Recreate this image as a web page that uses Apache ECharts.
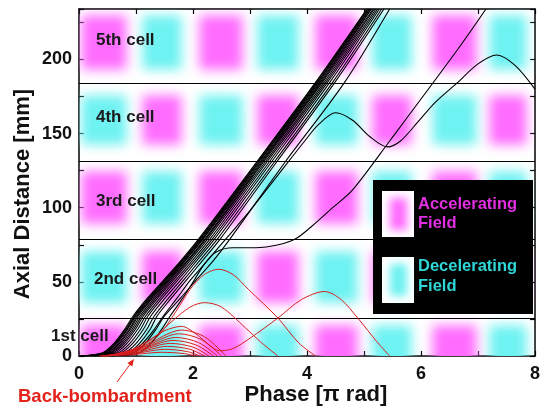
<!DOCTYPE html>
<html><head><meta charset="utf-8">
<script src="https://cdn.jsdelivr.net/npm/echarts@6/dist/echarts.min.js"></script>
<style>html,body{margin:0;padding:0;background:#fff}#c{width:543px;height:412px}</style>
</head><body><div id="c"></div>
<script>
// ---------------- data ----------------
const cellEdges = [0, 25.6, 79, 131, 184, 234];
const cellNames = ['1st cell', '2nd cell', '3rd cell', '4th cell', '5th cell'];
// field blocks (phase extent per half period, axial extent per cell)
const blockStart = [0.03, 1.10, 2.11, 3.13, 4.14, 5.14, 6.20, 7.19];
const blockEnd   = [0.85, 1.80, 2.88, 3.86, 4.90, 5.84, 6.99, 7.86];
const blockBottom = [-10, 36, 89, 142, 193];
const blockTop    = [21, 71, 125, 176, 230];

// black (transmitted) bunch: shared axial levels, phase per trajectory
const bundleY = [0, 2, 8, 18, 27, 39, 51, 64, 79, 131, 184, 234];
const bundle01 = [0.00, 0.40, 0.60, 0.80, 0.95, 1.20, 1.48, 1.78, 2.10, 3.12, 4.14, 5.05];
const bundle02 = [0.02, 0.42, 0.62, 0.82, 0.97, 1.22, 1.50, 1.80, 2.12, 3.13, 4.15, 5.06];
const bundle03 = [0.04, 0.44, 0.64, 0.84, 0.98, 1.23, 1.51, 1.81, 2.13, 3.15, 4.17, 5.07];
const bundle04 = [0.06, 0.45, 0.65, 0.85, 1.00, 1.25, 1.53, 1.83, 2.15, 3.16, 4.18, 5.09];
const bundle05 = [0.09, 0.48, 0.68, 0.88, 1.02, 1.27, 1.55, 1.85, 2.17, 3.18, 4.20, 5.10];
const bundle06 = [0.11, 0.50, 0.70, 0.90, 1.04, 1.29, 1.57, 1.86, 2.18, 3.20, 4.22, 5.12];
const bundle07 = [0.14, 0.53, 0.73, 0.93, 1.07, 1.32, 1.59, 1.89, 2.21, 3.22, 4.24, 5.13];
const bundle08 = [0.18, 0.56, 0.76, 0.96, 1.10, 1.35, 1.62, 1.91, 2.23, 3.24, 4.26, 5.16];
const bundle09 = [0.22, 0.59, 0.79, 0.99, 1.13, 1.38, 1.65, 1.94, 2.26, 3.27, 4.29, 5.18];
const bundle10 = [0.26, 0.63, 0.83, 1.03, 1.17, 1.42, 1.69, 1.98, 2.30, 3.30, 4.32, 5.21];
const bundle11 = [0.31, 0.68, 0.88, 1.08, 1.21, 1.46, 1.73, 2.02, 2.34, 3.34, 4.35, 5.24];
const bundle12 = [0.37, 0.73, 0.93, 1.13, 1.26, 1.51, 1.78, 2.06, 2.38, 3.38, 4.39, 5.27];
const bundle13 = [0.44, 0.79, 0.99, 1.19, 1.32, 1.57, 1.83, 2.11, 2.43, 3.43, 4.44, 5.31];
const bundle14 = [0.50, 0.85, 1.05, 1.25, 1.37, 1.62, 1.88, 2.16, 2.48, 3.47, 4.48, 5.35];
const bundle15 = [0.60, 0.95, 1.15, 1.35, 1.50, 1.78, 2.05, 2.35, 2.65, 3.62, 4.65, 5.45];

// black trajectories that fall behind
const lagPlateau = [[0.7,0],[1.05,2],[1.25,8],[1.45,18],[1.6,27],[1.82,39],[2.02,51],[2.2,62],[2.4,70],[2.7,73],[3.1,73],[3.5,75],[3.8,79],[4.07,87],[4.45,100],[4.8,112],[5.46,145.5],[6.63,206],[7.14,234]];
const lagWave = [[0.55,0],[0.9,2],[1.1,8],[1.32,18],[1.48,27],[1.72,39],[1.95,51],[2.2,62],[2.6,80],[3.0,98],[3.49,122],[3.96,145],[4.2,156],[4.5,164],[4.8,159],[5.1,148],[5.41,141],[5.64,145],[5.95,158],[6.25,171],[6.63,184],[7.0,197],[7.33,203],[7.65,196],[8.0,180]];

// red (back-bombarding) trajectories
const backA = [[0.5,0],[1.0,4],[1.4,14],[1.7,30],[1.95,45],[2.2,55],[2.45,58.5],[2.7,55],[2.97,45],[3.49,25.6],[3.85,9],[4.15,0]];
const backB = [[0.45,0],[0.9,3],[1.3,12],[1.65,24],[1.95,33],[2.2,36],[2.5,33],[2.92,19],[3.2,9],[3.49,0]];
const backC = [[0.4,0],[0.85,3],[1.2,10],[1.5,17],[1.8,20],[2.05,15],[2.3,7],[2.47,3.5],[2.7,5],[3.0,12],[3.49,25.6],[3.9,38],[4.31,43.5],[4.6,38],[4.89,25.6],[5.24,9],[5.45,0]];
const backS1 = [[0.35,0],[0.9,0.8],[1.45,2.5],[1.85,1.6],[2.05,0]];
const backS2 = [[0.38,0],[0.95,1.5],[1.5,4.5],[1.9,3],[2.12,0]];
const backS3 = [[0.4,0],[1.0,2.2],[1.55,6.5],[1.95,4.5],[2.2,0]];
const backS4 = [[0.42,0],[1.02,3],[1.6,8.5],[2.0,6],[2.28,0]];
const backS5 = [[0.45,0],[1.05,3.8],[1.65,10.5],[2.05,7.5],[2.36,0]];
const backS6 = [[0.48,0],[1.08,4.6],[1.7,12.5],[2.1,9],[2.43,0]];
const backS7 = [[0.5,0],[1.1,5.5],[1.75,15],[2.15,11],[2.5,0]];
const backS8 = [[0.52,0],[1.12,6.5],[1.8,17.5],[2.2,13],[2.58,0]];

const xTicks = [0, 2, 4, 6, 8];
const yTicks = [0, 50, 100, 150, 200];

// ---------------- chart ----------------
const MAG = '#ff6cff', CYA = '#6ef2f2';
const FONT = 'Liberation Sans, Arial, Helvetica, sans-serif';
const OFF = 5000;

const blocks = [];
for (let c = 0; c < 5; c++) for (let k = 0; k < blockStart.length; k++)
  blocks.push([blockStart[k], blockEnd[k], blockBottom[c], blockTop[c], (c + k) % 2]);

const bundles = [bundle01,bundle02,bundle03,bundle04,bundle05,bundle06,bundle07,bundle08,bundle09,bundle10,bundle11,bundle12,bundle13,bundle14,bundle15];
const blackCurves = bundles.map(xs => xs.map((x, i) => [x, bundleY[i]])).concat([lagPlateau, lagWave]);
const redCurves = [backS1,backS2,backS3,backS4,backS5,backS6,backS7,backS8,backC,backB,backA];

const chart = echarts.init(document.getElementById('c'), null, {renderer: 'canvas'});

const axisCommon = {
  type: 'value', splitLine: {show: false},
  axisLine: {show: true, onZero: false, lineStyle: {color: '#000', width: 1.5}},
  axisTick: {show: true, inside: true, length: 5, lineStyle: {color: '#000', width: 1.2}}
};

const series = [{
  type: 'custom', clip: true, z: 1, silent: true,
  data: blocks,
  renderItem: (params, api) => {
    const p0 = api.coord([api.value(0), api.value(3)]);
    const p1 = api.coord([api.value(1), api.value(2)]);
    const col = api.value(4) === 0 ? MAG : CYA;
    return {type: 'rect', shape: {x: p0[0] - OFF, y: p0[1], width: p1[0] - p0[0], height: p1[1] - p0[1]},
      style: {fill: col, shadowBlur: 11, shadowColor: col, shadowOffsetX: OFF}};
  }
}, {
  type: 'line', data: [], z: 3, silent: true,
  markLine: {silent: true, symbol: 'none', label: {show: false},
    lineStyle: {color: '#000', width: 1.2, type: 'solid'},
    data: cellEdges.slice(1, 5).map(v => ({yAxis: v}))}
}];
blackCurves.forEach(d => series.push({type: 'line', data: d, smooth: 0.3, showSymbol: false, z: 4, silent: true,
  lineStyle: {color: '#000', width: 1.1}}));
redCurves.forEach(d => series.push({type: 'line', data: d, smooth: 0.3, showSymbol: false, z: 5, silent: true,
  lineStyle: {color: '#d81e1e', width: 1}}));

function blurRect(x, y, w, h, col) {
  return {type: 'rect', shape: {x: x - OFF, y, width: w, height: h},
    style: {fill: col, shadowBlur: 9, shadowColor: col, shadowOffsetX: OFF}, z: 101};
}

const cellLabelPos = [[51, 336], [94, 279], [96, 201], [96, 117], [96, 40]];
const graphics = cellNames.map((t, i) => ({type: 'text', x: cellLabelPos[i][0], y: cellLabelPos[i][1], z: 50,
  style: {text: t, font: 'bold 17px ' + FONT, fill: '#1a1a1a', verticalAlign: 'middle', align: 'left'}}));

graphics.push(
  {type: 'text', x: 23, y: 194, rotation: Math.PI / 2, z: 50,
    style: {text: 'Axial Distance [mm]', font: 'bold 22px ' + FONT, fill: '#111', align: 'center', verticalAlign: 'middle'}},
  {type: 'text', x: 316, y: 395, z: 50,
    style: {text: 'Phase [π rad]', font: 'bold 22px ' + FONT, fill: '#111', align: 'center', verticalAlign: 'middle'}},
  {type: 'text', x: 18, y: 397, z: 50,
    style: {text: 'Back-bombardment', font: 'bold 18.5px ' + FONT, fill: '#e4221c', align: 'left', verticalAlign: 'middle'}},
  {type: 'line', z: 50, shape: {x1: 117, y1: 382, x2: 131, y2: 363}, style: {stroke: '#e4221c', lineWidth: 1}},
  {type: 'polygon', z: 50, shape: {points: [[134, 359], [132.3, 366.4], [127.4, 362.9]]}, style: {fill: '#e4221c'}},
  // legend box
  {type: 'rect', z: 100, shape: {x: 373, y: 180, width: 160, height: 134}, style: {fill: '#000'}},
  {type: 'rect', z: 100, shape: {x: 382, y: 191, width: 32, height: 46}, style: {fill: '#fff'}},
  blurRect(390, 198, 17, 32, MAG),
  {type: 'rect', z: 100, shape: {x: 382, y: 257, width: 32, height: 46}, style: {fill: '#fff'}},
  blurRect(390, 264, 17, 32, CYA),
  {type: 'text', x: 418, y: 204, z: 102, style: {text: 'Accelerating', font: 'bold 16.5px ' + FONT, fill: '#e22ee2', verticalAlign: 'middle'}},
  {type: 'text', x: 418, y: 223, z: 102, style: {text: 'Field', font: 'bold 16.5px ' + FONT, fill: '#e22ee2', verticalAlign: 'middle'}},
  {type: 'text', x: 418, y: 266, z: 102, style: {text: 'Decelerating', font: 'bold 16.5px ' + FONT, fill: '#2fd6d6', verticalAlign: 'middle'}},
  {type: 'text', x: 418, y: 286, z: 102, style: {text: 'Field', font: 'bold 16.5px ' + FONT, fill: '#2fd6d6', verticalAlign: 'middle'}}
);

chart.setOption({
  animation: false,
  backgroundColor: '#fff',
  grid: {left: 79, right: 5, top: 9, bottom: 56},
  xAxis: [
    Object.assign({}, axisCommon, {min: 0, max: 8, interval: 1, position: 'bottom',
      axisLabel: {show: true, margin: 9, fontSize: 18, fontWeight: 'bold', fontFamily: FONT, color: '#111',
        formatter: v => xTicks.includes(v) ? String(v) : ''}}),
    Object.assign({}, axisCommon, {min: 0, max: 8, interval: 1, position: 'top', axisLabel: {show: false}})
  ],
  yAxis: [
    Object.assign({}, axisCommon, {min: 0, max: 234, interval: 25, position: 'left',
      axisLabel: {show: true, margin: 7, fontSize: 18, fontWeight: 'bold', fontFamily: FONT, color: '#111',
        formatter: v => yTicks.includes(v) ? String(v) : ''}}),
    Object.assign({}, axisCommon, {min: 0, max: 234, interval: 25, position: 'right', axisLabel: {show: false}})
  ],
  series: series,
  graphic: graphics
});
</script></body></html>
